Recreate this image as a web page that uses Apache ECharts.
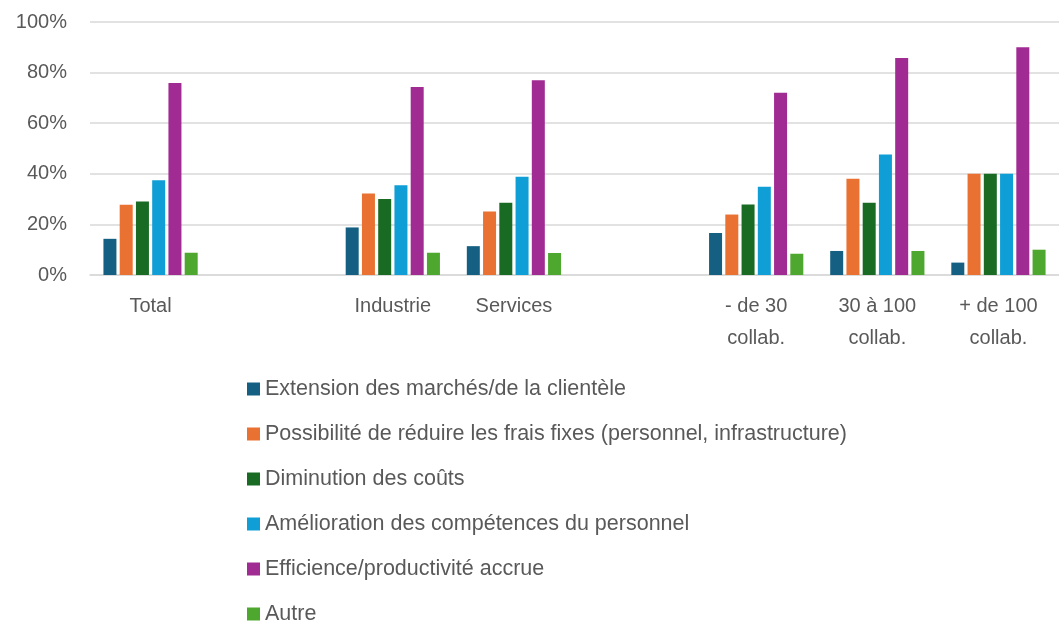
<!DOCTYPE html>
<html>
<head>
<meta charset="utf-8">
<script src="https://cdn.jsdelivr.net/npm/echarts@6/dist/echarts.min.js"></script>
<style>
  html, body { margin: 0; padding: 0; background: #fff; }
  #chart { width: 1059px; height: 623px; }
</style>
</head>
<body>
<div id="chart"></div>
<script>
// categories (the blank ones are spacers between groups)
const categories = ['Total', ' ', 'Industrie', 'Services', '  ', '- de 30\ncollab.', '30 à 100\ncollab.', '+ de 100\ncollab.'];
const yTicks = [0, 20, 40, 60, 80, 100];

// values in %
const extension = [14.3, null, 18.8, 11.4, null, 16.6, 9.5, 4.9];
const fraisFixes = [27.8, null, 32.2, 25.1, null, 23.9, 38.0, 40.0];
const diminution = [29.1, null, 30.0, 28.6, null, 27.9, 28.6, 40.0];
const competences = [37.5, null, 35.5, 38.8, null, 34.9, 47.6, 40.0];
const efficience = [75.9, null, 74.3, 77.0, null, 72.0, 85.8, 90.0];
const autre = [8.8, null, 8.8, 8.7, null, 8.4, 9.5, 10.0];

const seriesNames = [
  'Extension des marchés/de la clientèle',
  'Possibilité de réduire les frais fixes (personnel, infrastructure)',
  'Diminution des coûts',
  'Amélioration des compétences du personnel',
  'Efficience/productivité accrue',
  'Autre'
];
const seriesData = [extension, fraisFixes, diminution, competences, efficience, autre];
const colors = ['#156082', '#E97132', '#196B24', '#0F9ED5', '#A02B93', '#4EA72E'];

const textColor = '#595959';
const font = "'Liberation Sans', Arial, sans-serif";

const chart = echarts.init(document.getElementById('chart'));

const option = {
  animation: false,
  color: colors,
  grid: {
    left: 90,
    right: 0,
    top: 22,
    height: 253,
    containLabel: false,
    outerBoundsMode: 'none'
  },
  legend: {
    orient: 'vertical',
    left: 242,
    top: 372,
    height: 260,
    itemWidth: 13,
    itemHeight: 13,
    itemGap: 21,
    icon: 'rect',
    data: seriesNames,
    textStyle: {
      color: textColor,
      fontSize: 21.5,
      fontFamily: font,
      lineHeight: 24
    }
  },
  xAxis: {
    type: 'category',
    data: categories,
    axisTick: { show: false },
    axisLine: { show: true, lineStyle: { color: '#d9d9d9', width: 1.5 } },
    axisLabel: {
      color: textColor,
      fontSize: 20,
      fontFamily: font,
      lineHeight: 32,
      margin: 15,
      interval: 0
    }
  },
  yAxis: {
    type: 'value',
    min: yTicks[0],
    max: yTicks[yTicks.length - 1],
    interval: 20,
    axisLine: { show: false },
    axisTick: { show: false },
    splitLine: { lineStyle: { color: '#d9d9d9', width: 1.5 } },
    axisLabel: {
      color: textColor,
      fontSize: 20,
      fontFamily: font,
      margin: 23,
      formatter: '{value}%'
    }
  },
  series: seriesNames.map((name, i) => ({
    name: name,
    type: 'bar',
    data: seriesData[i],
    barWidth: 13,
    barGap: '25%'
  }))
};

chart.setOption(option);
</script>
</body>
</html>
